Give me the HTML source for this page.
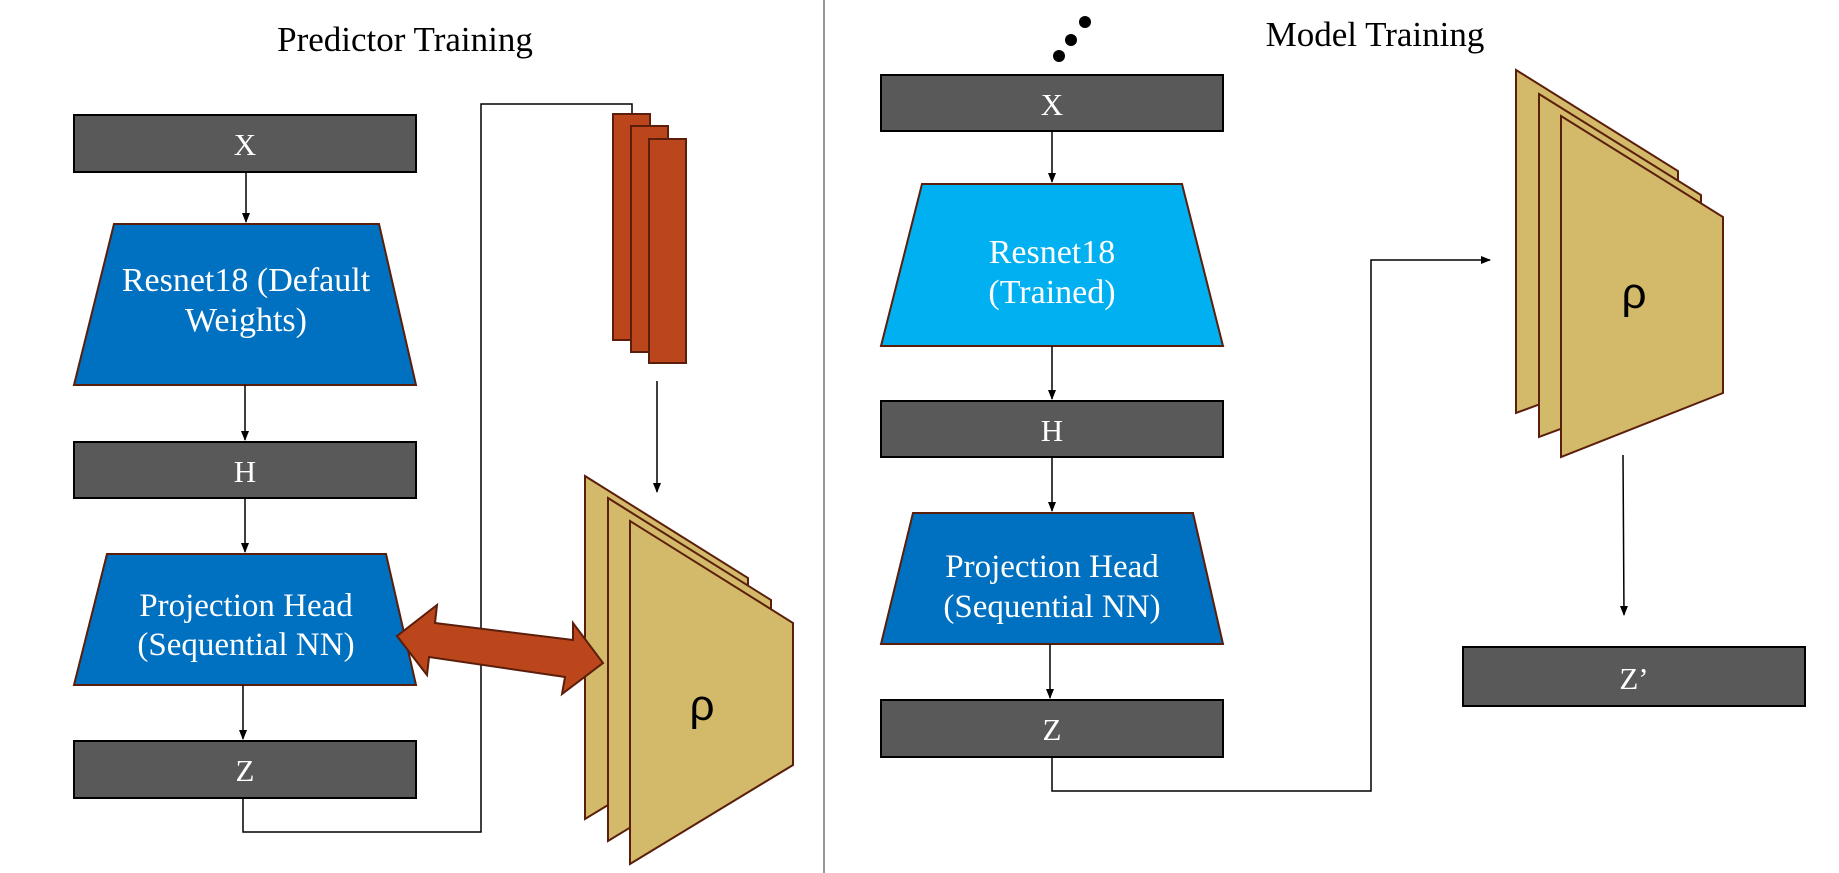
<!DOCTYPE html>
<html><head><meta charset="utf-8"><style>
html,body{margin:0;padding:0;background:#fff;}
svg{display:block;}
text{font-family:"Liberation Serif",serif;}
</style></head><body>
<svg width="1839" height="873" viewBox="0 0 1839 873" xmlns="http://www.w3.org/2000/svg">
<defs>
<marker id="ah" markerWidth="10" markerHeight="10" refX="9" refY="5" orient="auto" markerUnits="userSpaceOnUse">
<path d="M0,1 L10,5 L0,9 Z" fill="#000"/>
</marker>
</defs>
<rect width="1839" height="873" fill="#fff"/>
<line x1="824" y1="0" x2="824" y2="873" stroke="#777" stroke-width="1.5"/>

<!-- LEFT -->
<text x="405" y="51" font-size="35" text-anchor="middle" fill="#000">Predictor Training</text>
<rect x="74" y="115" width="342" height="57" fill="#595959" stroke="#000" stroke-width="2"/>
<text x="245" y="155" font-size="31" fill="#fff" text-anchor="middle">X</text>
<line x1="246" y1="172" x2="246" y2="222" stroke="#000" stroke-width="1.5" marker-end="url(#ah)"/>
<polygon points="114,224 379,224 416,385 74,385" fill="#0070c0" stroke="#5a1e0a" stroke-width="2"/>
<text x="246" y="291" font-size="34" fill="#fff" text-anchor="middle">Resnet18 (Default</text>
<text x="246" y="331" font-size="34" fill="#fff" text-anchor="middle">Weights)</text>
<line x1="245" y1="385" x2="245" y2="440" stroke="#000" stroke-width="1.5" marker-end="url(#ah)"/>
<rect x="74" y="442" width="342" height="56" fill="#595959" stroke="#000" stroke-width="2"/>
<text x="245" y="482" font-size="31" fill="#fff" text-anchor="middle">H</text>
<line x1="245" y1="498" x2="245" y2="552" stroke="#000" stroke-width="1.5" marker-end="url(#ah)"/>
<polygon points="107,554 386,554 416,685 74,685" fill="#0070c0" stroke="#5a1e0a" stroke-width="2"/>
<text x="246" y="616" font-size="33" fill="#fff" text-anchor="middle">Projection Head</text>
<text x="246" y="655" font-size="33" fill="#fff" text-anchor="middle">(Sequential NN)</text>
<line x1="243" y1="685" x2="243" y2="739" stroke="#000" stroke-width="1.5" marker-end="url(#ah)"/>
<rect x="74" y="741" width="342" height="57" fill="#595959" stroke="#000" stroke-width="2"/>
<text x="245" y="781" font-size="31" fill="#fff" text-anchor="middle">Z</text>
<polyline points="243,798 243,832 481,832 481,104 632,104 632,114" fill="none" stroke="#000" stroke-width="1.5"/>

<rect x="613" y="114" width="37" height="226" fill="#bc461c" stroke="#5a1e0a" stroke-width="2"/>
<rect x="631" y="126" width="37" height="226" fill="#bc461c" stroke="#5a1e0a" stroke-width="2"/>
<rect x="649" y="139" width="37" height="224" fill="#bc461c" stroke="#5a1e0a" stroke-width="2"/>
<line x1="657" y1="381" x2="657" y2="492" stroke="#000" stroke-width="1.5" marker-end="url(#ah)"/>

<polygon points="585,476 748,578 748,720 585,819" fill="#d3b96a" stroke="#5a1e0a" stroke-width="2"/>
<polygon points="608,498 771,600 771,742 608,841" fill="#d3b96a" stroke="#5a1e0a" stroke-width="2"/>
<polygon points="630,521 793,623 793,765 630,864" fill="#d3b96a" stroke="#5a1e0a" stroke-width="2"/>
<text x="702" y="720" font-size="44" style="font-family:'Liberation Sans',sans-serif" text-anchor="middle" fill="#000">ρ</text>

<polygon points="397,636 437,605 435,623 573,640 573,623 603,663 562,694 565,677 429,657 427,675" fill="#bc461c" stroke="#5a1e0a" stroke-width="2" stroke-linejoin="miter"/>

<!-- RIGHT -->
<text x="1375" y="46" font-size="35" text-anchor="middle" fill="#000">Model Training</text>
<circle cx="1059" cy="56" r="6" fill="#000"/>
<circle cx="1071" cy="40" r="6" fill="#000"/>
<circle cx="1085" cy="22" r="6" fill="#000"/>
<rect x="881" y="75" width="342" height="56" fill="#595959" stroke="#000" stroke-width="2"/>
<text x="1052" y="115" font-size="31" fill="#fff" text-anchor="middle">X</text>
<line x1="1052" y1="131" x2="1052" y2="182" stroke="#000" stroke-width="1.5" marker-end="url(#ah)"/>
<polygon points="922,184 1182,184 1223,346 881,346" fill="#00b0f0" stroke="#5a1e0a" stroke-width="2"/>
<text x="1052" y="263" font-size="34" fill="#fff" text-anchor="middle">Resnet18</text>
<text x="1052" y="303" font-size="34" fill="#fff" text-anchor="middle">(Trained)</text>
<line x1="1052" y1="346" x2="1052" y2="399" stroke="#000" stroke-width="1.5" marker-end="url(#ah)"/>
<rect x="881" y="401" width="342" height="56" fill="#595959" stroke="#000" stroke-width="2"/>
<text x="1052" y="441" font-size="31" fill="#fff" text-anchor="middle">H</text>
<line x1="1052" y1="457" x2="1052" y2="511" stroke="#000" stroke-width="1.5" marker-end="url(#ah)"/>
<polygon points="913,513 1193,513 1223,644 881,644" fill="#0070c0" stroke="#5a1e0a" stroke-width="2"/>
<text x="1052" y="577" font-size="33" fill="#fff" text-anchor="middle">Projection Head</text>
<text x="1052" y="617" font-size="33" fill="#fff" text-anchor="middle">(Sequential NN)</text>
<line x1="1050" y1="644" x2="1050" y2="698" stroke="#000" stroke-width="1.5" marker-end="url(#ah)"/>
<rect x="881" y="700" width="342" height="57" fill="#595959" stroke="#000" stroke-width="2"/>
<text x="1052" y="740" font-size="31" fill="#fff" text-anchor="middle">Z</text>
<polyline points="1052,757 1052,791 1371,791 1371,260 1490,260" fill="none" stroke="#000" stroke-width="1.5" marker-end="url(#ah)"/>

<polygon points="1516,70 1678,171 1678,353 1516,413" fill="#d3b96a" stroke="#5a1e0a" stroke-width="2"/>
<polygon points="1539,94 1701,195 1701,377 1539,437" fill="#d3b96a" stroke="#5a1e0a" stroke-width="2"/>
<polygon points="1561,116 1723,217 1723,393 1561,457" fill="#d3b96a" stroke="#5a1e0a" stroke-width="2"/>
<text x="1634" y="308" font-size="44" style="font-family:'Liberation Sans',sans-serif" text-anchor="middle" fill="#000">ρ</text>
<line x1="1623" y1="455" x2="1624" y2="615" stroke="#000" stroke-width="1.5" marker-end="url(#ah)"/>
<rect x="1463" y="647" width="342" height="59" fill="#595959" stroke="#000" stroke-width="2"/>
<text x="1634" y="689" font-size="31" fill="#fff" text-anchor="middle">Z’</text>
</svg>
</body></html>
